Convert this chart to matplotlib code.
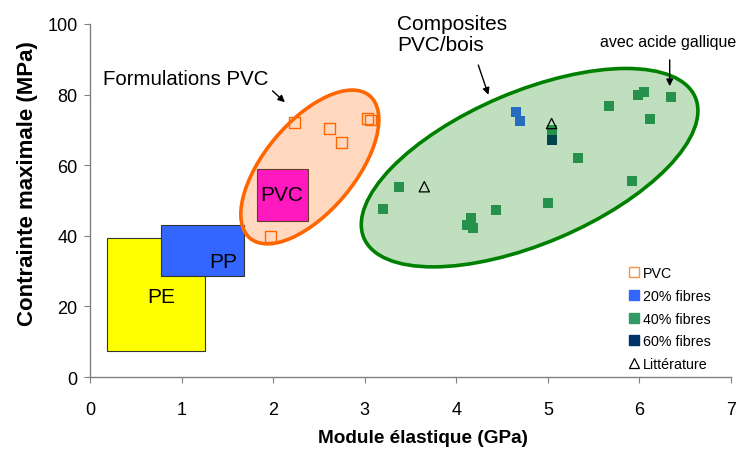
import matplotlib
matplotlib.use("Agg")
import matplotlib.pyplot as plt
from matplotlib.lines import Line2D
from matplotlib.patches import Ellipse, Rectangle
from matplotlib.transforms import ScaledTranslation

plt.rcParams["font.family"] = ["Liberation Sans", "DejaVu Sans"]

# données (module en GPa, contrainte en MPa)
pvc_x = [2.23, 2.62, 2.75, 3.03, 3.06, 1.97]
pvc_y = [72.0, 70.5, 66.3, 73.1, 72.8, 39.9]

f20_x = [4.65, 4.69]
f20_y = [75.0, 72.4]

f40_x = [3.37, 3.20, 4.16, 4.12, 4.18, 4.43, 5.00, 5.33, 5.92, 5.67, 5.98, 6.05, 6.12, 6.34, 5.04]
f40_y = [53.8, 47.6, 45.0, 43.1, 42.3, 47.2, 49.3, 62.0, 55.5, 76.8, 79.8, 80.7, 73.0, 79.2, 70.0]

f60_x = [5.05]
f60_y = [67.1]

lit_x = [3.65, 5.04]
lit_y = [53.9, 71.8]

# domaines des polymères purs : (xmin, xmax, ymin, ymax)
boxes = {
    "PE": (0.18, 1.25, 7.4, 39.4),
    "PP": (0.78, 1.68, 28.5, 43.1),
    "PVC": (1.82, 2.38, 44.2, 58.8),
}
box_colors = {"PE": "#ffff00", "PP": "#3366ff", "PVC": "#ff00ff"}
box_labels = {"PE": (0.78, 22.9), "PP": (1.46, 32.6), "PVC": (2.09, 51.8)}

fig = plt.figure(figsize=(7.38, 4.52), dpi=100)
ax = fig.add_axes([0.1220, 0.1637, 0.8686, 0.781])

for name, (x0, x1, y0, y1) in boxes.items():
    ax.add_patch(Rectangle((x0, y0), x1 - x0, y1 - y0, facecolor=box_colors[name],
                           edgecolor="#333333", linewidth=0.8, zorder=1))
    lx, ly = box_labels[name]
    ax.text(lx, ly, name, ha="center", va="center", fontsize=15, zorder=5)

mk = 62
ax.scatter(pvc_x, pvc_y, marker="s", s=mk, facecolor="none", edgecolor="#ff6600", linewidth=1.0, zorder=2)
ax.scatter(f20_x, f20_y, marker="s", s=mk, color="#3366ff", linewidth=0, zorder=2)
ax.scatter(f40_x, f40_y, marker="s", s=mk, color="#339966", linewidth=0, zorder=2)
ax.scatter(f60_x, f60_y, marker="s", s=mk, color="#003366", linewidth=0, zorder=2)
ax.scatter(lit_x, lit_y, marker="^", s=55, facecolor="none", edgecolor="black", linewidth=0.9, zorder=4)


def zone(cx, cy, a_px, b_px, angle, color):
    tr = fig.dpi_scale_trans + ScaledTranslation(cx, cy, ax.transData)
    ax.add_patch(Ellipse((0, 0), 2 * a_px / 100, 2 * b_px / 100, angle=angle, transform=tr,
                         facecolor=color, alpha=0.25, edgecolor="none", zorder=3))
    ax.add_patch(Ellipse((0, 0), 2 * a_px / 100, 2 * b_px / 100, angle=angle, transform=tr,
                         facecolor="none", edgecolor=color, linewidth=2.6, zorder=3))


zone(2.40, 59.5, 93, 45, 50, "#ff6600")
zone(4.80, 59.3, 180, 76, 23, "#008000")

arrow = dict(arrowstyle="-|>", color="black", lw=1.0, mutation_scale=10)
ax.annotate("", xy=(2.15, 77.3), xytext=(1.97, 81.6), arrowprops=arrow, zorder=5)
ax.text(1.04, 84.7, "Formulations PVC", ha="center", va="center", fontsize=14.7)
ax.annotate("", xy=(4.36, 79.2), xytext=(4.23, 89.1), arrowprops=arrow, zorder=5)
ax.text(3.35, 97.2, "Composites\nPVC/bois", ha="left", va="center", fontsize=15, linespacing=1.12)
ax.annotate("", xy=(6.33, 81.6), xytext=(6.33, 90.6), arrowprops=arrow, zorder=5)
ax.text(6.31, 94.9, "avec acide gallique", ha="center", va="center", fontsize=11.5)

ax.set_xlim(0, 7)
ax.set_ylim(0, 100)
ax.set_xticks(range(0, 8))
ax.set_yticks(range(0, 101, 20))
ax.tick_params(labelsize=13, length=4, color="#808080")
ax.tick_params(axis="x", pad=13)
ax.tick_params(axis="y", pad=5)
for side in ("top", "right"):
    ax.spines[side].set_visible(False)
for side in ("left", "bottom"):
    ax.spines[side].set_color("#808080")
    ax.spines[side].set_linewidth(1.0)
ax.set_xlabel("Module élastique (GPa)", fontsize=13.7, fontweight="bold")
ax.set_ylabel("Contrainte maximale (MPa)", fontsize=16, fontweight="bold")
ax.xaxis.label.set_verticalalignment("center")
ax.yaxis.label.set_verticalalignment("center")
ax.xaxis.set_label_coords(0.520, -0.170)
ax.yaxis.set_label_coords(-0.097, 0.551)

handles = [
    Line2D([], [], ls="none", marker="s", ms=7, mfc="none", mec="#f79646", mew=1.0),
    Line2D([], [], ls="none", marker="s", ms=7, mfc="#3366ff", mec="#3366ff"),
    Line2D([], [], ls="none", marker="s", ms=7, mfc="#339966", mec="#339966"),
    Line2D([], [], ls="none", marker="s", ms=7, mfc="#003366", mec="#003366"),
    Line2D([], [], ls="none", marker="^", ms=7, mfc="none", mec="black", mew=0.9),
]
labels = ["PVC", "20% fibres", "40% fibres", "60% fibres", "Littérature"]
ax.legend(handles, labels, loc="upper left", bbox_to_anchor=(0.831, 0.331), frameon=False,
          fontsize=10.3, handlelength=0.8, handletextpad=0.2, labelspacing=0.62, borderaxespad=0)

fig.savefig("out.png", dpi=100)
